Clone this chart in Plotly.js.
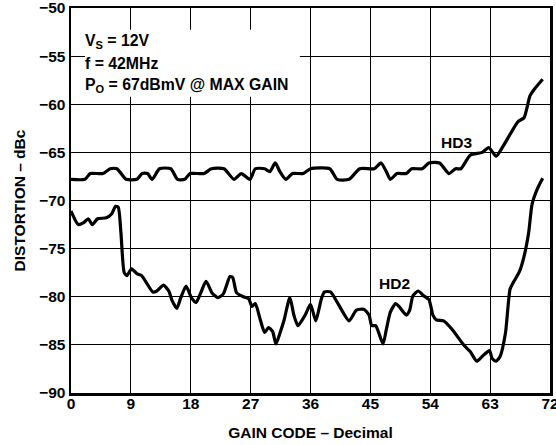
<!DOCTYPE html>
<html><head><meta charset="utf-8">
<script src="https://cdn.plot.ly/plotly-3.0.1.min.js"></script>
<style>html,body{margin:0;padding:0;background:#fff}#chart{width:556px;height:445px}</style>
</head><body><div id="chart"></div>
<script>
const hd3X = [0,2.1,2.9,4.8,5.9,6.9,8.3,9.9,10.7,11.5,12.2,13.3,15.0,16.0,17.1,17.9,20.0,21.1,23.0,24.5,25.6,26.9,27.7,29.1,29.9,30.7,31.4,32.3,33.3,34.9,36.0,38.9,40.0,41.8,43.4,45.6,46.6,47.4,48.0,49.0,50.4,51.2,52.8,53.8,55.4,56.8,57.8,58.6,60.0,61.8,62.8,63.9,65.0,67.2,68.1,69.0,69.8,70.9];
const hd3Y = [-67.8,-67.8,-67.2,-67.2,-66.7,-66.7,-67.8,-67.8,-67.2,-67.2,-67.8,-66.7,-66.7,-67.8,-67.8,-67.2,-67.2,-66.7,-66.7,-67.8,-67.2,-67.8,-66.7,-66.7,-67.0,-66.1,-67.0,-67.8,-67.2,-67.2,-66.7,-66.7,-67.8,-67.8,-66.7,-66.7,-66.1,-67.0,-67.8,-67.2,-67.2,-66.7,-66.7,-66.1,-66.1,-67.2,-66.7,-66.7,-65.3,-65.0,-64.5,-65.4,-64.3,-61.8,-61.4,-59.1,-58.3,-57.4];
const hd2X = [0,1.1,1.9,2.6,3.2,4.0,5.3,6.1,6.7,7.1,7.5,8.0,8.4,9.1,9.9,10.6,11.3,12.3,12.9,13.9,14.7,15.2,15.9,16.5,17.3,18.1,18.8,19.5,20.3,21.2,22.1,22.9,23.9,24.3,24.9,25.9,26.7,27.2,27.7,28.5,29.1,29.7,30.3,30.8,31.4,32.0,32.9,33.5,34.1,35.2,36.0,36.8,37.6,38.1,39.0,40.2,41.8,42.9,44.0,44.8,45.2,45.8,46.9,47.4,48.0,48.8,49.3,50.4,50.9,51.4,52.2,53.0,53.8,54.4,54.9,56.0,57.3,58.9,60.0,61.0,61.8,62.9,63.3,63.9,64.5,65.3,66.0,66.5,67.4,68.1,68.8,69.3,70.1,70.9];
const hd2Y = [-71.1,-72.5,-72.3,-71.9,-72.5,-71.9,-71.8,-71.4,-70.6,-70.7,-73.3,-77.5,-77.8,-77.1,-77.6,-77.8,-78.5,-79.5,-79.4,-78.8,-79.4,-80.4,-81.2,-80.1,-78.9,-80.1,-80.6,-79.6,-78.4,-79.6,-80.1,-79.7,-77.9,-78.0,-79.6,-80.0,-80.2,-81.0,-80.7,-82.5,-83.7,-83.2,-83.6,-84.9,-83.8,-82.5,-80.1,-81.9,-83.0,-81.9,-80.8,-82.5,-80.3,-79.5,-79.5,-80.8,-82.5,-81.4,-81.3,-81.9,-83.0,-83.0,-84.9,-83.4,-81.6,-80.7,-81.0,-81.9,-81.4,-79.9,-79.4,-79.9,-80.3,-81.9,-82.4,-82.5,-83.4,-84.9,-85.7,-86.7,-86.2,-85.6,-86.4,-86.7,-86.2,-83.8,-79.2,-78.5,-77.4,-75.8,-73.3,-70.4,-68.8,-67.7];
const xTicks = [0,9,18,27,36,45,54,63,72];
const yTicks = [-90,-85,-80,-75,-70,-65,-60,-55,-50];
const infoLines = ['V<sub>S</sub> = 12V','f = 42MHz','P<sub>O</sub> = 67dBmV @ MAX GAIN'];
const infoY = [-53.5,-55.8,-58.0];
const seriesNames = ['HD3','HD2'];

const F = 'Liberation Sans, Arial, sans-serif';
const lineStyle = {color:'#000', width:3.2, shape:'spline', smoothing:0.6};
const traces = [
  {x:hd3X, y:hd3Y, mode:'lines', line:lineStyle, name:seriesNames[0], hoverinfo:'skip'},
  {x:hd2X, y:hd2Y, mode:'lines', line:lineStyle, name:seriesNames[1], hoverinfo:'skip'}
];
const annotations = infoLines.map((t,i)=>({x:1.8, y:infoY[i], xref:'x', yref:'y', text:t, showarrow:false, xanchor:'left', yanchor:'middle', font:{family:F, size:15.8, color:'#000', weight:'bold'}}));
annotations.push({x:58.0, y:-64.0, xref:'x', yref:'y', text:seriesNames[0], showarrow:false, font:{family:F, size:15.5, color:'#000', weight:'bold'}});
annotations.push({x:48.7, y:-78.6, xref:'x', yref:'y', text:seriesNames[1], showarrow:false, font:{family:F, size:15.5, color:'#000', weight:'bold'}});

const layout = {
  width:556, height:445,
  margin:{l:71, r:6, t:8, b:52},
  paper_bgcolor:'#fff', plot_bgcolor:'#fff',
  showlegend:false,
  font:{family:F, color:'#000'},
  xaxis:{range:[0,72], tickvals:xTicks, ticks:'', showgrid:true, gridcolor:'#000', gridwidth:1.2,
    zeroline:false, showline:true, linecolor:'#000', linewidth:2.5, mirror:true,
    ticklabeloverflow:'allow', ticklabelstandoff:-5,
    tickfont:{family:F, size:15.5, color:'#000', weight:'bold'},
    title:{text:'GAIN CODE – Decimal', font:{family:F, size:15.5, color:'#000', weight:'bold'}, standoff:16}},
  yaxis:{range:[-90,-50], tickvals:yTicks, ticks:'', showgrid:true, gridcolor:'#000', gridwidth:1.2,
    zeroline:false, showline:true, linecolor:'#000', linewidth:2.5, mirror:true,
    ticklabeloverflow:'allow',
    tickfont:{family:F, size:15.5, color:'#000', weight:'bold'},
    title:{text:'DISTORTION – dBc', font:{family:F, size:15.5, color:'#000', weight:'bold'}, standoff:10}},
  shapes:[{type:'rect', xref:'x', yref:'y', x0:2.1, x1:34.4, y0:-52.26, y1:-59.23, fillcolor:'#fff', line:{width:0}, layer:'between'}],
  annotations:annotations
};
Plotly.newPlot('chart', traces, layout, {staticPlot:true, displayModeBar:false});
</script></body></html>
